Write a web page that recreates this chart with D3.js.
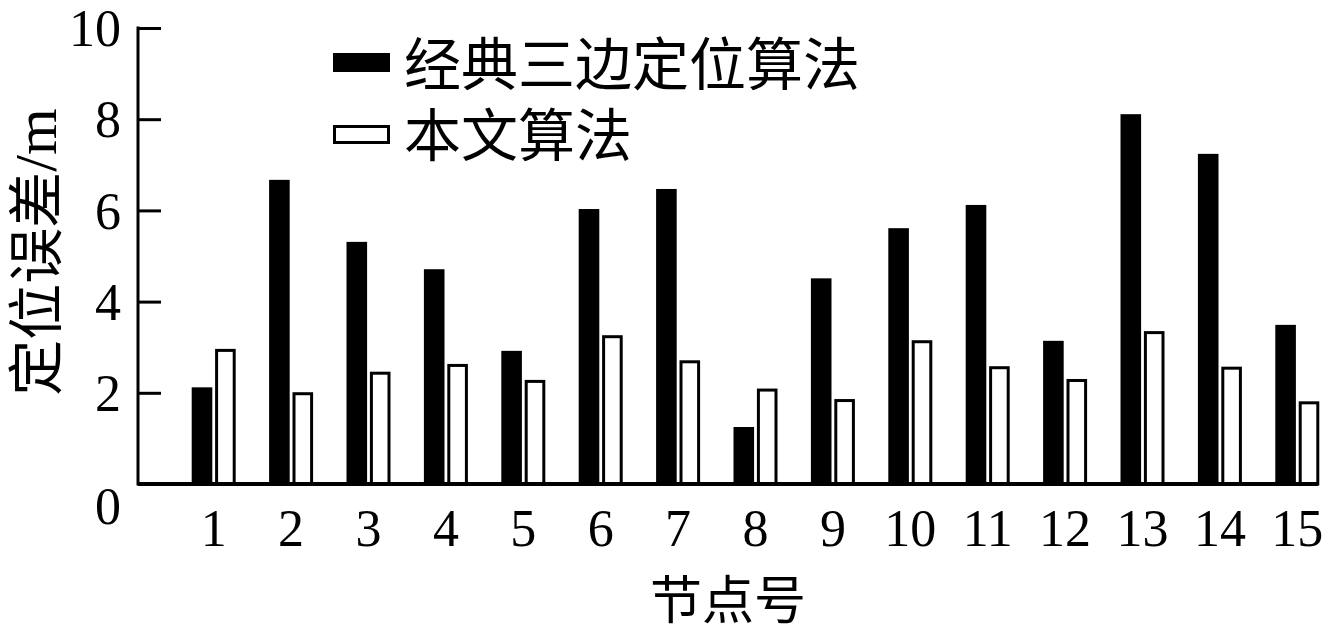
<!DOCTYPE html>
<html><head><meta charset="utf-8">
<script src="https://cdn.jsdelivr.net/npm/d3@7/dist/d3.min.js"></script>
<style>body{margin:0;background:#fff;} svg{display:block;}</style>
</head><body>
<svg id="c" width="1330" height="631"></svg>
<script>
const categories = ["1","2","3","4","5","6","7","8","9","10","11","12","13","14","15"];
const classic = [2.12,6.67,5.31,4.71,2.92,6.03,6.47,1.25,4.51,5.61,6.12,3.14,8.11,7.24,3.49];
const ours = [2.93,1.98,2.43,2.60,2.25,3.23,2.68,2.06,1.83,3.12,2.55,2.27,3.32,2.54,1.78];
const yTicks = [0,2,4,6,8,10];
const seriesNames = ["经典三边定位算法","本文算法"];

const svg = d3.select("#c");
const serif = "'Liberation Serif','Times New Roman',serif";
const cjk = "'Noto Sans CJK SC','Noto Sans CJK JP',sans-serif";

const y = d3.scaleLinear().domain([0,10]).range([484,28]);
const x0 = d3.scaleBand().domain(categories).range([175,1336]).paddingInner(0).paddingOuter(0);
const x1 = d3.scaleBand().domain([0,1]).range([0, 44]).paddingInner(0.12);
const off = (x0.bandwidth() - 44) / 2;

// bars
const g = svg.append("g");
categories.forEach((c,i) => {
  g.append("rect")
    .attr("x", x0(c) + off + x1(0)).attr("y", y(classic[i]))
    .attr("width", x1.bandwidth()).attr("height", y(0) - y(classic[i]))
    .attr("fill", "#000");
  g.append("rect")
    .attr("x", x0(c) + off + x1(1) + 1.5).attr("y", y(ours[i]))
    .attr("width", x1.bandwidth() - 3).attr("height", y(0) - y(ours[i]))
    .attr("fill", "#fff").attr("stroke", "#000").attr("stroke-width", 3);
});

// y axis
const yAxis = d3.axisRight(y).tickValues(yTicks).tickSize(23).tickFormat(d3.format("d"));
const ya = svg.append("g").attr("transform","translate(138,0)").call(yAxis);
ya.select(".domain").remove();
ya.selectAll(".tick line").attr("stroke","#000").attr("stroke-width",3);
ya.selectAll(".tick text")
  .attr("x", -17).attr("text-anchor","end")
  .attr("font-family", serif).attr("font-size", 52).attr("fill","#000")
  .attr("dy", d => d === 0 ? "0.76em" : "0.34em");
svg.append("line").attr("x1",138).attr("x2",138).attr("y1",y(10)-1.5).attr("y2",y(0)+1.5)
  .attr("stroke","#000").attr("stroke-width",3);

// x axis
const xAxis = d3.axisBottom(x0).tickSize(0).tickPadding(0);
const xa = svg.append("g").attr("transform","translate(0,484)").call(xAxis);
xa.select(".domain").remove();
xa.selectAll(".tick text")
  .attr("font-family", serif).attr("font-size", 52).attr("fill","#000")
  .attr("y", 0).attr("dy", 62);
svg.append("line").attr("x1",138).attr("x2",1318).attr("y1",484).attr("y2",484)
  .attr("stroke","#000").attr("stroke-width",4);

// axis titles
svg.append("text").attr("x",728).attr("y",600).attr("dy","0.36em").attr("text-anchor","middle")
  .attr("font-family", cjk).attr("font-size",52).attr("fill","#000").text("节点号");
const yt = svg.append("text").attr("transform","translate(36,252) rotate(-90)")
  .attr("dy","0.36em")
  .attr("text-anchor","middle").attr("font-family", cjk).attr("font-size",56).attr("fill","#000");
yt.append("tspan").text("定位误差");
yt.append("tspan").attr("font-family", serif).attr("font-size",60).text("/m");

// legend
const leg = svg.append("g");
leg.append("rect").attr("x",333).attr("y",53).attr("width",57).attr("height",19).attr("fill","#000");
leg.append("rect").attr("x",334.5).attr("y",126.5).attr("width",54).attr("height",16)
  .attr("fill","#fff").attr("stroke","#000").attr("stroke-width",3);
leg.append("text").attr("x",404).attr("y",64).attr("dy","0.36em")
  .attr("font-family", cjk).attr("font-size",57).attr("fill","#000").text(seriesNames[0]);
leg.append("text").attr("x",404).attr("y",135).attr("dy","0.36em")
  .attr("font-family", cjk).attr("font-size",57).attr("fill","#000").text(seriesNames[1]);
</script>
</body></html>
